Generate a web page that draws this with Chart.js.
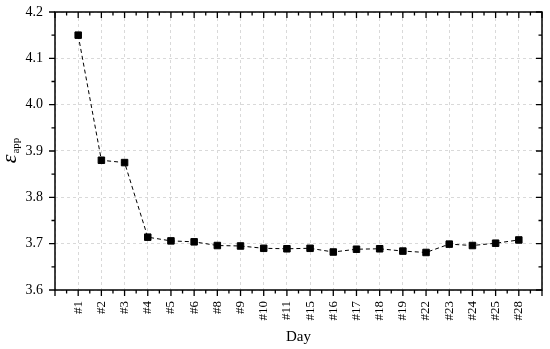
<!DOCTYPE html>
<html>
<head>
<meta charset="utf-8">
<script src="https://cdn.jsdelivr.net/npm/chart.js@4"></script>
<style>
  html, body { margin: 0; background: #fff; }
</style>
</head>
<body>
<canvas id="chart" width="550" height="349"></canvas>
<script>
// Day labels and apparent permittivity
const days = ['#1', '#2', '#3', '#4', '#5', '#6', '#8', '#9', '#10', '#11',
  '#15', '#16', '#17', '#18', '#19', '#22', '#23', '#24', '#25', '#28'];
const epsApp = [4.150, 3.880, 3.875, 3.714, 3.706, 3.704, 3.696, 3.695, 3.690, 3.689,
  3.690, 3.682, 3.688, 3.689, 3.684, 3.681, 3.699, 3.696, 3.701, 3.708];
const yMin = 3.6, yMax = 4.2, yStep = 0.1;

const serif = '"Liberation Serif", "DejaVu Serif", serif';

// box, minor/major ticks on all four sides, and the y title with subscript
const frame = {
  id: 'frame',
  afterDraw(chart) {
    const { ctx, chartArea: a, scales: { x, y } } = chart;
    ctx.save();
    ctx.strokeStyle = '#000';
    ctx.lineWidth = 1.3;
    ctx.beginPath();
    for (let v = 0; v <= days.length + 1; v += 0.5) {
      const px = x.getPixelForValue(v);
      const len = Number.isInteger(v) ? 6 : 3.5;
      ctx.moveTo(px, a.bottom); ctx.lineTo(px, a.bottom + len);
      ctx.moveTo(px, a.top); ctx.lineTo(px, a.top + len);
    }
    const n = Math.round((yMax - yMin) / (yStep / 2));
    for (let i = 0; i <= n; i++) {
      const py = y.getPixelForValue(yMin + i * yStep / 2);
      const len = i % 2 ? 3.5 : 6;
      ctx.moveTo(a.left, py); ctx.lineTo(a.left - len, py);
      ctx.moveTo(a.right, py); ctx.lineTo(a.right - len, py);
    }
    ctx.stroke();
    ctx.lineWidth = 1.5;
    ctx.strokeRect(a.left, a.top, a.right - a.left, a.bottom - a.top);

    ctx.translate(16, (a.top + a.bottom) / 2);
    ctx.rotate(-Math.PI / 2);
    ctx.fillStyle = '#000';
    ctx.textBaseline = 'alphabetic';
    ctx.font = 'italic 22px ' + serif;
    const w1 = ctx.measureText('ε').width;
    ctx.font = '11px ' + serif;
    const w2 = ctx.measureText('app').width;
    const x0 = -(w1 + w2) / 2;
    ctx.font = 'italic 22px ' + serif;
    ctx.fillText('ε', x0, 0);
    ctx.font = '11px ' + serif;
    ctx.fillText('app', x0 + w1 + 1, 3);
    ctx.restore();
  }
};

new Chart(document.getElementById('chart'), {
  type: 'line',
  data: {
    datasets: [{
      data: epsApp.map((v, i) => ({ x: i + 1, y: v })),
      borderColor: '#000',
      borderWidth: 1,
      borderDash: [4, 3],
      backgroundColor: '#000',
      pointStyle: 'rect',
      pointRadius: 4.6,
      pointBorderWidth: 1,
      pointBorderColor: '#000',
      tension: 0
    }]
  },
  options: {
    responsive: false,
    animation: false,
    devicePixelRatio: 1,
    layout: { padding: { top: 12, right: 8, left: 0, bottom: 0 } },
    plugins: { legend: { display: false }, tooltip: { enabled: false } },
    scales: {
      x: {
        type: 'linear',
        min: 0,
        max: days.length + 1,
        afterFit(s) {
          s.height = 59;
          s.paddingLeft = 0;
          s.paddingRight = 0;
        },
        afterBuildTicks(s) {
          s.ticks = [];
          for (let v = 0; v <= days.length + 1; v++) s.ticks.push({ value: v });
        },
        ticks: {
          autoSkip: false,
          minRotation: 90,
          maxRotation: 90,
          padding: 11,
          color: '#000',
          font: { family: serif, size: 13 },
          callback: v => days[v - 1] || ''
        },
        grid: { color: '#d9d9d9', lineWidth: 1, drawTicks: false },
        border: { display: false, dash: [3, 3] },
        title: {
          display: true,
          text: 'Day',
          color: '#000',
          font: { family: serif, size: 15 },
          padding: { top: 0, bottom: 3 }
        }
      },
      y: {
        min: yMin,
        max: yMax,
        afterFit(s) {
          s.width = 55;
          s.paddingTop = 0;
          s.paddingBottom = 0;
        },
        ticks: {
          stepSize: yStep,
          padding: 12,
          color: '#000',
          font: { family: serif, size: 14 },
          callback: v => v.toFixed(1)
        },
        grid: { color: '#d9d9d9', lineWidth: 1, drawTicks: false },
        border: { display: false, dash: [3, 3] }
      }
    }
  },
  plugins: [frame]
});
</script>
</body>
</html>
